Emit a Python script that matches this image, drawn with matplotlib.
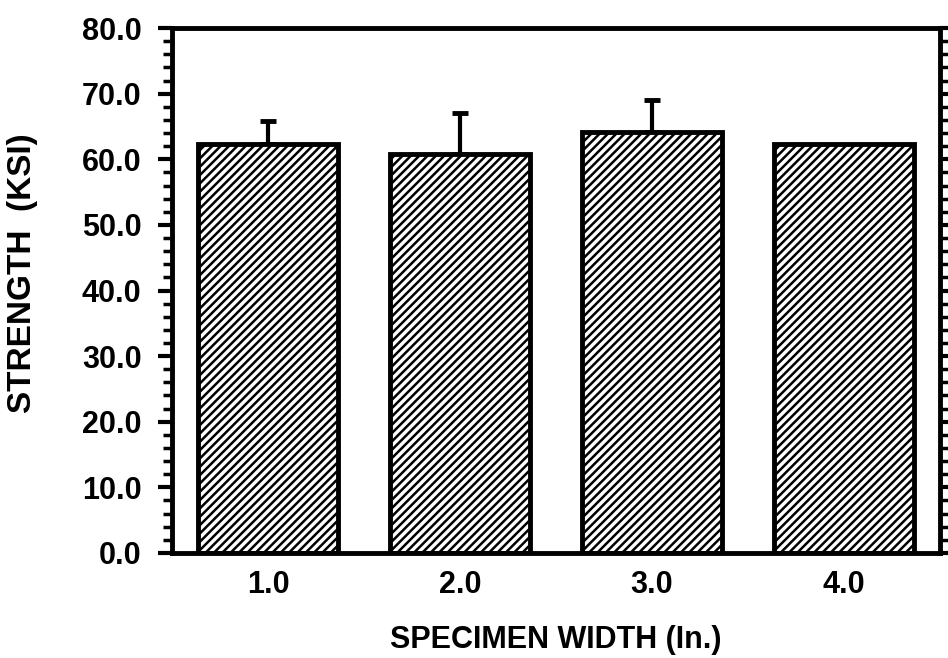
import numpy as np
import matplotlib
matplotlib.use("Agg")
import matplotlib.pyplot as plt
from matplotlib.ticker import MultipleLocator, FormatStrFormatter

plt.rcParams['font.family'] = ['Liberation Sans', 'DejaVu Sans']
plt.rcParams['font.weight'] = 'bold'
plt.rcParams['hatch.linewidth'] = 1.8

# dane
szerokosc = [1.0, 2.0, 3.0, 4.0]
etykiety = ['1.0', '2.0', '3.0', '4.0']
wytrzymalosc = [62.3, 60.8, 64.2, 62.3]
blad_gora = [3.6, 6.3, 4.8, 0.0]

fig = plt.figure(figsize=(9.48, 6.58), dpi=100)
ax = fig.add_axes([0.1814, 0.1596, 0.8102, 0.7978])

x = np.array(szerokosc)
ax.bar(x, wytrzymalosc, width=0.73, color='white', edgecolor='black',
       linewidth=3.5, hatch='////', zorder=2)
ma_blad = np.array(blad_gora) > 0
ax.errorbar(x[ma_blad], np.array(wytrzymalosc)[ma_blad],
            yerr=[np.zeros(ma_blad.sum()), np.array(blad_gora)[ma_blad]],
            fmt='none', ecolor='black', elinewidth=3, capsize=5.5, capthick=3.5,
            zorder=1)

ax.set_xlim(0.5, 4.5)
ax.set_ylim(0, 80)
ax.set_xticks(x)
ax.set_xticklabels(etykiety)
ax.yaxis.set_major_locator(MultipleLocator(10))
ax.yaxis.set_minor_locator(MultipleLocator(2))
ax.yaxis.set_major_formatter(FormatStrFormatter('%.1f'))

for s in ax.spines.values():
    s.set_linewidth(3.5)

ax.tick_params(axis='x', length=0, labelsize=22, pad=12)
ax.tick_params(axis='y', which='major', direction='out', length=10, width=3,
               labelsize=22, left=True, right=True, pad=12)
ax.tick_params(axis='y', which='minor', direction='out', length=6.5, width=2.5,
               left=True, right=True)

ax.set_xlabel('SPECIMEN WIDTH (In.)', fontsize=22, fontweight='bold', labelpad=18)
ax.set_ylabel('STRENGTH  (KSI)', fontsize=24, fontweight='bold')
ax.yaxis.set_label_coords(-0.1745, 0.533)

fig.savefig('out.png', dpi=100)
